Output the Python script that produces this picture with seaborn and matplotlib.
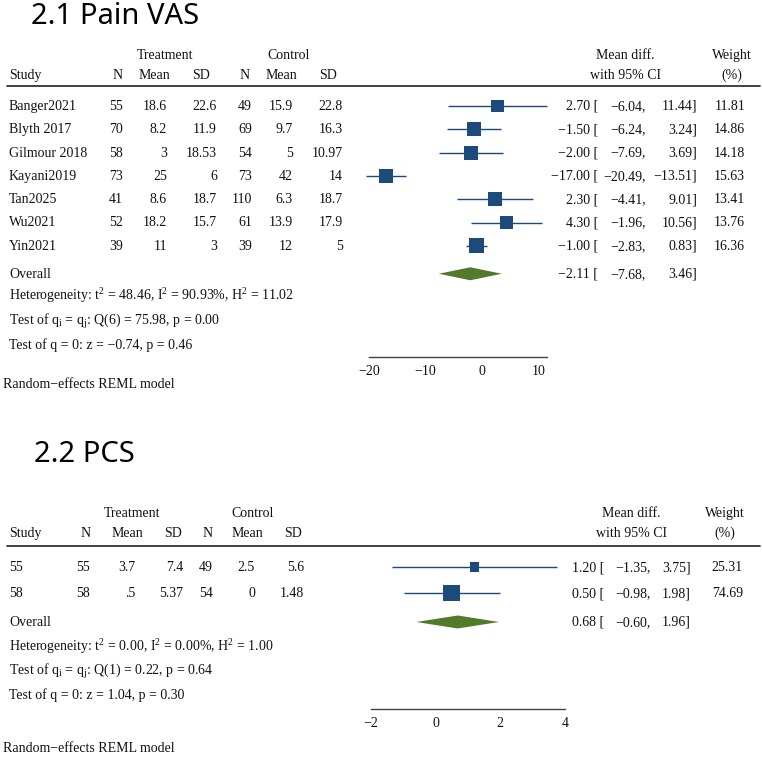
import pandas as pd
import seaborn as sns
import matplotlib.pyplot as plt
from matplotlib.lines import Line2D
from matplotlib import transforms

# ---- data: 2.1 Pain VAS
vas_study = ["Banger2021", "Blyth 2017", "Gilmour 2018", "Kayani2019", "Tan2025", "Wu2021", "Yin2021"]
vas_t_n = ["55", "70", "58", "73", "41", "52", "39"]
vas_t_mean = ["18.6", "8.2", "3", "25", "8.6", "18.2", "11"]
vas_t_sd = ["22.6", "11.9", "18.53", "6", "18.7", "15.7", "3"]
vas_c_n = ["49", "69", "54", "73", "110", "61", "39"]
vas_c_mean = ["15.9", "9.7", "5", "42", "6.3", "13.9", "12"]
vas_c_sd = ["22.8", "16.3", "10.97", "14", "18.7", "17.9", "5"]
vas_md = [2.70, -1.50, -2.00, -17.00, 2.30, 4.30, -1.00]
vas_lo = [-6.04, -6.24, -7.69, -20.49, -4.41, -1.96, -2.83]
vas_hi = [11.44, 3.24, 3.69, -13.51, 9.01, 10.56, 0.83]
vas_w = [11.81, 14.86, 14.18, 15.63, 13.41, 13.76, 16.36]
vas_overall = [-2.11, -7.68, 3.46]
vas_stats = [r"Heterogeneity: t$^{2}$ = 48.46, I$^{2}$ = 90.93%, H$^{2}$ = 11.02",
             r"Test of q$_{\mathrm{i}}$ = q$_{\mathrm{j}}$: Q(6) = 75.98, p = 0.00",
             "Test of q = 0: z = \u22120.74, p = 0.46"]
vas_ticks = [-20, -10, 0, 10]

# ---- data: 2.2 PCS
pcs_study = ["55", "58"]
pcs_t_n = ["55", "58"]
pcs_t_mean = ["3.7", ".5"]
pcs_t_sd = ["7.4", "5.37"]
pcs_c_n = ["49", "54"]
pcs_c_mean = ["2.5", "0"]
pcs_c_sd = ["5.6", "1.48"]
pcs_md = [1.20, 0.50]
pcs_lo = [-1.35, -0.98]
pcs_hi = [3.75, 1.98]
pcs_w = [25.31, 74.69]
pcs_overall = [0.68, -0.60, 1.96]
pcs_stats = [r"Heterogeneity: t$^{2}$ = 0.00, I$^{2}$ = 0.00%, H$^{2}$ = 1.00",
             r"Test of q$_{\mathrm{i}}$ = q$_{\mathrm{j}}$: Q(1) = 0.22, p = 0.64",
             "Test of q = 0: z = 1.04, p = 0.30"]
pcs_ticks = [-2, 0, 2, 4]

sns.set_style("white")
plt.rcParams['font.family'] = ['Liberation Serif', 'DejaVu Serif']
plt.rcParams['mathtext.fontset'] = 'custom'
plt.rcParams['mathtext.rm'] = 'Liberation Serif'
plt.rcParams['mathtext.it'] = 'Liberation Serif:italic'
plt.rcParams['axes.unicode_minus'] = True

W, H = 762, 757
NAVY = "#1b4a7b"
GREEN = "#527a2a"
INK = "#111111"
FS = 10

fig = plt.figure(figsize=(W / 100, H / 100), dpi=100)


def fx(x):
    return x / W


def fy(y):
    return 1 - y / H


def ptext(x, y, s, ha="left", **kw):
    # y is text centre in pixels
    fig.text(fx(x), fy(y + 4), s, ha=ha, va="baseline", fontsize=kw.pop("fontsize", FS), color=INK, **kw)


def panel(title, title_xy, studies, cols, md, lo, hi, w, overall, stats, ticks,
          lay):
    fig.text(fx(title_xy[0]), fy(title_xy[1]), title, family=['Noto Sans', 'DejaVu Sans'],
             fontsize=21, ha="left", va="center", color="black")

    # forest axes: x in data units, y in row units
    x0, x1 = lay["xlim"]
    left, right = lay["xpx"]
    top, bot = lay["ypx"]
    r0, step = lay["row0"], lay["step"]
    ax = fig.add_axes([fx(left), fy(bot), fx(right) - fx(left), (bot - top) / H])
    ax.set_xlim(x0, x1)
    ax.set_ylim((bot - r0) / step, (top - r0) / step)
    ax.patch.set_alpha(0)

    n = len(studies)
    df = pd.DataFrame({"md": md, "lo": lo, "hi": hi, "w": w, "row": range(n)})
    ax.hlines(df["row"], df["lo"], df["hi"], color=NAVY, lw=1.0, clip_on=False, zorder=2)
    sns.scatterplot(data=df, x="md", y="row", size="w", sizes=(0, lay["k"] * 100),
                    size_norm=(0, 100), marker="s", color=NAVY, linewidth=0,
                    legend=False, ax=ax, clip_on=False, zorder=3)

    ov_row = lay["rows"][0]
    est, olo, ohi = overall
    dh = 6.5 / step
    ax.fill([olo, est, ohi, est], [ov_row, ov_row - dh, ov_row, ov_row + dh],
            color=GREEN, lw=0, clip_on=False)

    sns.despine(ax=ax, left=True)
    ax.spines["bottom"].set_color("#444444")
    ax.spines["bottom"].set_linewidth(1.0)
    ax.set_yticks([])
    ax.set_xticks(ticks)
    ax.set_xticklabels([f"{t:g}".replace("-", "\u2212") for t in ticks])
    ax.tick_params(axis="x", direction="out", length=4, width=1, color="#444444",
                   labelsize=FS, pad=2, labelcolor=INK)
    ax.set_xlabel("")
    ax.set_ylabel("")

    # table text, rows tied to the forest axes' y scale
    tr = transforms.blended_transform_factory(fig.transFigure, ax.transData)
    tr = transforms.offset_copy(tr, fig=fig, y=-4 * 0.72, units="points")

    def rtext(x, r, s, ha="right"):
        fig.text(fx(x), r, s, ha=ha, va="baseline", fontsize=FS, color=INK, transform=tr)

    c = lay["cols"]
    for i in range(n):
        rtext(9, i, studies[i], ha="left")
        for xpos, col in zip(c, cols):
            rtext(xpos, i, col[i])
        rtext(lay["ci"][0], i, f"{md[i]:.2f} [".replace("-", "\u2212"))
        rtext(lay["ci"][1], i, f"{lo[i]:.2f},".replace("-", "\u2212"))
        rtext(lay["ci"][2], i, f"{hi[i]:.2f}]".replace("-", "\u2212"))
        rtext(lay["ci"][3], i, f"{w[i]:.2f}")

    rtext(9, ov_row, "Overall", ha="left")
    rtext(lay["ci"][0], ov_row, f"{est:.2f} [".replace("-", "\u2212"))
    rtext(lay["ci"][1], ov_row, f"{olo:.2f},".replace("-", "\u2212"))
    rtext(lay["ci"][2], ov_row, f"{ohi:.2f}]".replace("-", "\u2212"))
    for r, s in zip(lay["rows"][1:], stats):
        rtext(9, r, s, ha="left")

    # headers
    hy1, hy2 = lay["hdr"]
    ptext(lay["grp"][0], hy1, "Treatment", ha="center")
    ptext(lay["grp"][1], hy1, "Control", ha="center")
    ptext(9, hy2, "Study")
    for xpos, s in zip(lay["hcols"], ["N", "Mean", "SD", "N", "Mean", "SD"]):
        ptext(xpos, hy2, s, ha="right")
    ptext(lay["ci_c"], hy1, "Mean diff.", ha="center")
    ptext(lay["ci_c"], hy2, "with 95% CI", ha="center")
    ptext(lay["w_c"], hy1, "Weight", ha="center")
    ptext(lay["w_c"], hy2, "(%)", ha="center")
    fig.add_artist(Line2D([fx(7), fx(760)], [fy(top)] * 2, color="#333333", lw=1.3))

    ptext(3, lay["model_y"], "Random\u2212effects REML model")


panel("2.1 Pain VAS", (31, 17), vas_study,
      [vas_t_n, vas_t_mean, vas_t_sd, vas_c_n, vas_c_mean, vas_c_sd],
      vas_md, vas_lo, vas_hi, vas_w, vas_overall, vas_stats, vas_ticks,
      dict(xlim=(-20, 11.44), xpx=(369, 547), ypx=(86, 357), row0=106, step=23.3,
           k=7.2, rows=[7.2, 8.15, 9.23, 10.26],
           cols=[123, 167, 217, 252, 293, 343], hcols=[123, 170, 210, 250, 297, 337],
           grp=[165, 289], hdr=[55, 75], ci=[598, 646, 697, 745], ci_c=625, w_c=732,
           model_y=384))

panel("2.2 PCS", (34, 454), pcs_study,
      [pcs_t_n, pcs_t_mean, pcs_t_sd, pcs_c_n, pcs_c_mean, pcs_c_sd],
      pcs_md, pcs_lo, pcs_hi, pcs_w, pcs_overall, pcs_stats, pcs_ticks,
      dict(xlim=(-2, 4), xpx=(371, 565), ypx=(546, 709), row0=567, step=26,
           k=2.0, rows=[2.115, 3.08, 4.0, 4.92],
           cols=[90, 135, 183, 213, 255, 304], hcols=[91, 143, 182, 213, 263, 302],
           grp=[132, 253], hdr=[513, 533], ci=[604, 651, 691, 743], ci_c=631, w_c=725,
           model_y=748))

fig.savefig("out.png", dpi=100, facecolor="white")
plt.close(fig)
